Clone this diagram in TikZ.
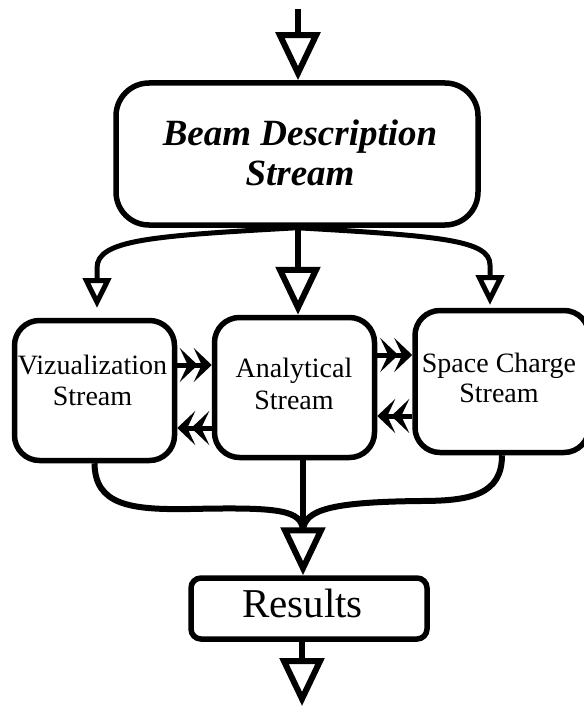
\documentclass[tikz,border=0pt]{standalone}
\usepackage{fontspec}
\setmainfont{Liberation Serif}
\usetikzlibrary{arrows.meta}
\begin{document}
\begin{tikzpicture}[x=1pt,y=-1pt,
  box/.style={draw,line width=5.5pt,rounded corners=#1,inner sep=0pt},
  lbl/.style={align=center,inner sep=0pt},
  conn/.style={line width=6pt},
  connthin/.style={line width=5pt},
  bigtri/.style={-{Triangle[open,length=48pt,width=44pt]}},
  smalltri/.style={-{Triangle[open,length=30pt,width=28pt]}},
  dbl/.style={-{Stealth[length=18pt,width=34pt,inset=8pt,sep=-4pt]Stealth[length=18pt,width=34pt,inset=8pt]}}
]
\useasboundingbox (0,0) rectangle (583,706);
% boxes
\node[box=33pt,minimum width=362pt,minimum height=142pt] (beam) at (297,154) {};
\node[box=25pt,minimum width=160pt,minimum height=140pt] (viz) at (94.5,390.5) {};
\node[box=25pt,minimum width=160pt,minimum height=140pt] (ana) at (294.5,387.5) {};
\node[box=25pt,minimum width=174pt,minimum height=142pt] (spc) at (502,381.5) {};
\node[box=10pt,minimum width=236pt,minimum height=61pt] (res) at (309,608.5) {};
% texts
\node[lbl,font=\fontsize{37}{40}\selectfont\bfseries\itshape] (beamtxt) at (300,152.5) {Beam Description\\Stream};
\node[lbl,font=\fontsize{28}{31}\selectfont] (viztxt) at (92.5,380.5) {Vizualization\\Stream};
\node[lbl,font=\fontsize{28}{32}\selectfont] (anatxt) at (294,383.5) {Analytical\\Stream};
\node[lbl,font=\fontsize{28}{30}\selectfont] (spctxt) at (499,377.5) {Space Charge\\Stream};
\node[lbl,font=\fontsize{41}{44}\selectfont] (restxt) at (302.5,603.5) {Results};
% coordinates
\coordinate (in) at (298,9);
\coordinate (lt) at (97,308);
\coordinate (rt) at (490,305);
\coordinate (m) at (303,530);
\coordinate (out) at (302,706);
\coordinate (r1) at (0,365);
\coordinate (r2) at (0,428);
\coordinate (r3) at (0,355);
\coordinate (r4) at (0,416);
% connectors
\draw[conn,bigtri] (in) -- (beam.north -| in);
\draw[conn,bigtri] (beam.south -| in) -- (ana.north -| in);
\draw[connthin,smalltri] (beam.south) .. controls (150,236) and (97,240) .. (97,268) -- (lt);
\draw[connthin,smalltri] (beam.south) .. controls (440,236) and (490,240) .. (490,265) -- (rt);
\draw[connthin,dbl] (viz.east |- r1) -- (ana.west |- r1);
\draw[connthin,dbl] (ana.west |- r2) -- (viz.east |- r2);
\draw[connthin,dbl] (ana.east |- r3) -- (spc.west |- r3);
\draw[connthin,dbl] (spc.west |- r4) -- (ana.east |- r4);
\draw[conn] (viz.south) .. controls (95,505) and (130,510) .. (190,509) .. controls (280,507) and (301,510) .. (m);
\draw[conn] (spc.south) .. controls (502,495) and (470,501) .. (420,501) .. controls (330,502) and (305,510) .. (m);
\draw[conn,bigtri] (ana.south -| m) -- (res.north -| m);
\draw[conn,bigtri] (res.south -| out) -- (out);
\end{tikzpicture}
\end{document}
